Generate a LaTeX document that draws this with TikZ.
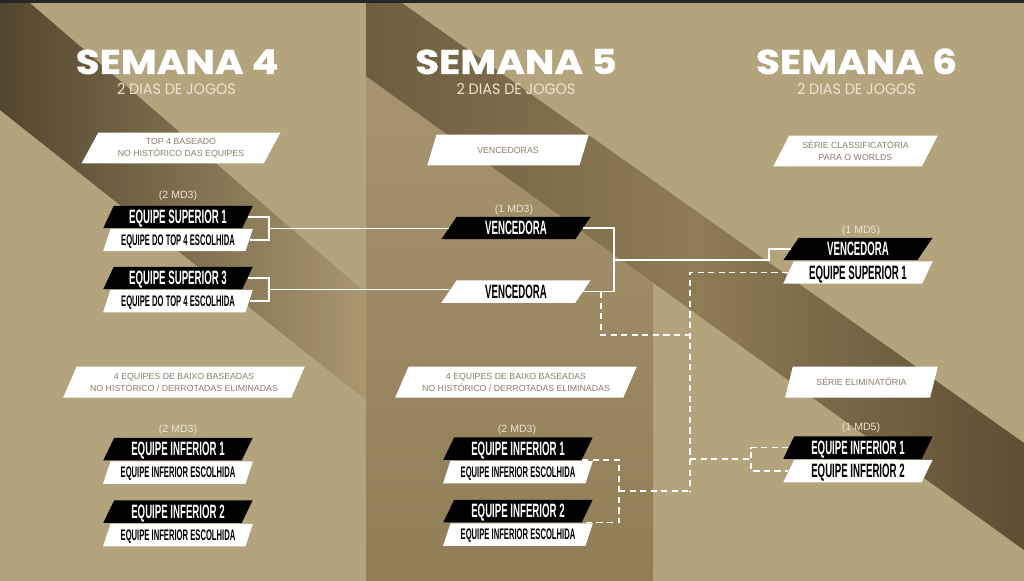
\documentclass[tikz,border=0pt]{standalone}
\usepackage{fontspec}
\setmainfont{Liberation Sans}
\newfontfamily\headfont[FakeStretch=1.14,FakeBold=1]{Poppins}
\newfontfamily\daysfont[FakeStretch=0.95]{Poppins}
\newfontfamily\teamfont[FakeStretch=0.5]{Liberation Sans}
\usetikzlibrary{shapes.geometric,calc}
\definecolor{tanbg}{HTML}{B3A47E}
\definecolor{bandL}{HTML}{6E5D40}
\definecolor{bandM}{HTML}{8E7C56}
\definecolor{bandR}{HTML}{5E4E33}
\definecolor{leftdark}{HTML}{54452E}
\definecolor{leftend}{HTML}{A8976F}
\definecolor{midtop}{HTML}{A69470}
\definecolor{midbot}{HTML}{917E57}
\definecolor{infogray}{HTML}{8A7F69}
\definecolor{cream}{HTML}{EDE5D2}

\begin{document}
\begin{tikzpicture}[x=0.02cm,y=-0.02cm,
   teambox/.style={shape=trapezium,trapezium left angle=60,trapezium right angle=120,
     trapezium stretches=true,minimum width=3cm,minimum height=0.45cm,inner sep=0pt,
     text height=7.9pt,text depth=0pt,font=\teamfont\bfseries\fontsize{11}{11}\selectfont},
   blk/.style={teambox,fill=black,text=white},
   wht/.style={teambox,fill=white,text=black},
   smalltxt/.style={text height=6.2pt,font=\teamfont\bfseries\fontsize{8.7}{9}\selectfont},
   infobox/.style={shape=trapezium,trapezium left angle=57,trapezium right angle=123,
     trapezium stretches=true,minimum height=0.62cm,inner sep=0pt,fill=white,
     text=infogray,align=center,font=\fontsize{5}{6.8}\selectfont},
   weektxt/.style={anchor=base,inner sep=0pt,text depth=0pt,text=white,
     font=\headfont\bfseries\fontsize{19.5}{20}\selectfont},
   daystxt/.style={anchor=base,inner sep=0pt,text height=6pt,text depth=0pt,text=cream,
     font=\daysfont\fontsize{8.6}{9}\selectfont},
   mdtxt/.style={anchor=base,text=cream,font=\fontsize{6}{7}\selectfont},
   link/.style={draw=white,line width=0.75pt},
   loss/.style={link,dash pattern=on 3.5pt off 2.5pt}]
  \useasboundingbox (0,0) rectangle (1024,581);
  % background
  \fill[tanbg] (0,0) rectangle (1024,581);
  \shade[left color=leftdark,right color=leftend] (0,3) -- (30,3) -- (366,293) -- (366,400) -- (0,110) -- cycle;
  \shade[top color=midtop,bottom color=midbot] (366,76) -- (653,283) -- (653,581) -- (366,581) -- cycle;
  \shade[left color=bandL,right color=bandR,middle color=bandM] (366,3) -- (402,3) -- (1024,443) -- (1024,550) -- (366,76) -- cycle;
  \fill[black!85] (0,0) rectangle (1024,3);

  % semana headers
  \node[weektxt] (w4) at (177,74) {SEMANA 4};
  \node[daystxt] (d4) at (176.5,94) {2 DIAS DE JOGOS};
  \node[weektxt] (w5) at (516,74) {SEMANA 5};
  \node[daystxt] (d5) at (516,94) {2 DIAS DE JOGOS};
  \node[weektxt] (w6) at (856.5,74) {SEMANA 6};
  \node[daystxt] (d6) at (856.5,94) {2 DIAS DE JOGOS};

  % info boxes
  \node[infobox,minimum width=4cm] (topL) at (181,148) {TOP 4 BASEADO\\NO HISTÓRICO DAS EQUIPES};
  \node[infobox,minimum width=3.24cm] (topM) at (508,150) {VENCEDORAS};
  \node[infobox,minimum width=3.3cm] (topR) at (855.5,151) {SÉRIE CLASSIFICATÓRIA\\PARA O WORLDS};
  \node[infobox,minimum width=4.84cm] (botL) at (184,382) {4 EQUIPES DE BAIXO BASEADAS\\NO HISTÓRICO / DERROTADAS ELIMINADAS};
  \node[infobox,minimum width=4.84cm] (botM) at (516,382) {4 EQUIPES DE BAIXO BASEADAS\\NO HISTÓRICO / DERROTADAS ELIMINADAS};
  \node[infobox,minimum width=3.06cm] (botR) at (861.5,382) {SÉRIE ELIMINATÓRIA};

  % match counts
  \node[mdtxt] (md1) at (178,198) {(2 MD3)};
  \node[mdtxt] (md2) at (514,212) {(1 MD3)};
  \node[mdtxt] (md3) at (861,233) {(1 MD5)};
  \node[mdtxt] (md4) at (178,432) {(2 MD3)};
  \node[mdtxt] (md5) at (517,432) {(2 MD3)};
  \node[mdtxt] (md6) at (861,430) {(1 MD5)};

  % semana 4
  \node[blk] (s1) at (178,217) {EQUIPE SUPERIOR 1};
  \node[wht,smalltxt] (t1) at (178,240) {EQUIPE DO TOP 4 ESCOLHIDA};
  \node[blk] (s3) at (178,278) {EQUIPE SUPERIOR 3};
  \node[wht,smalltxt] (t3) at (178,301) {EQUIPE DO TOP 4 ESCOLHIDA};
  \node[blk] (i1) at (178,449) {EQUIPE INFERIOR 1};
  \node[wht,smalltxt] (e1) at (178,472.5) {EQUIPE INFERIOR ESCOLHIDA};
  \node[blk] (i2) at (178,511.5) {EQUIPE INFERIOR 2};
  \node[wht,smalltxt] (e2) at (178,535) {EQUIPE INFERIOR ESCOLHIDA};

  % semana 5
  \node[blk] (v1) at (516,228) {VENCEDORA};
  \node[wht] (v2) at (516,291.5) {VENCEDORA};
  \node[blk] (mi1) at (518,448.5) {EQUIPE INFERIOR 1};
  \node[wht,smalltxt] (me1) at (518,472) {EQUIPE INFERIOR ESCOLHIDA};
  \node[blk] (mi2) at (518,511) {EQUIPE INFERIOR 2};
  \node[wht,smalltxt] (me2) at (518,534.5) {EQUIPE INFERIOR ESCOLHIDA};

  % semana 6
  \node[blk] (fv) at (858,249) {VENCEDORA};
  \node[wht] (fs) at (858,272.5) {EQUIPE SUPERIOR 1};
  \node[blk] (ri1) at (858,447.5) {EQUIPE INFERIOR 1};
  \node[wht] (ri2) at (858,471) {EQUIPE INFERIOR 2};

  % winners
  \coordinate (ja) at (269,228.5);
  \coordinate (jb) at (269,289.5);
  \coordinate (jc) at (614,260);
  \coordinate (jd) at (769,260);
  \draw[link] (s1.east) -| (ja) |- (t1.east);
  \draw[link] (s3.east) -| (jb) |- (t3.east);
  \draw[link] (ja) -- (ja -| v1.west);
  \draw[link] (jb) -- (jb -| v2.west);
  \draw[link] (v1.east) -| (jc) |- (v2.east);
  \draw[link] (jc) -- (jd) |- (fv.west);

  % losers
  \coordinate (drop) at (601,292);
  \coordinate (je) at (690,335);
  \coordinate (jf) at (690,491);
  \coordinate (jg) at (619,491);
  \coordinate (jh) at (690,459);
  \coordinate (ji) at (751,459);
  \draw[loss] (drop) |- (je);
  \draw[loss] (fs.west) -| (jf);
  \draw[loss] (mi1.bottom right corner) -| (jg) |- (mi2.bottom right corner);
  \draw[loss] (jg) -- (jf);
  \draw[loss] (jh) -- (ji);
  \draw[loss] (ri1.west) -| (ji) |- (ri2.west);
\end{tikzpicture}
\end{document}
